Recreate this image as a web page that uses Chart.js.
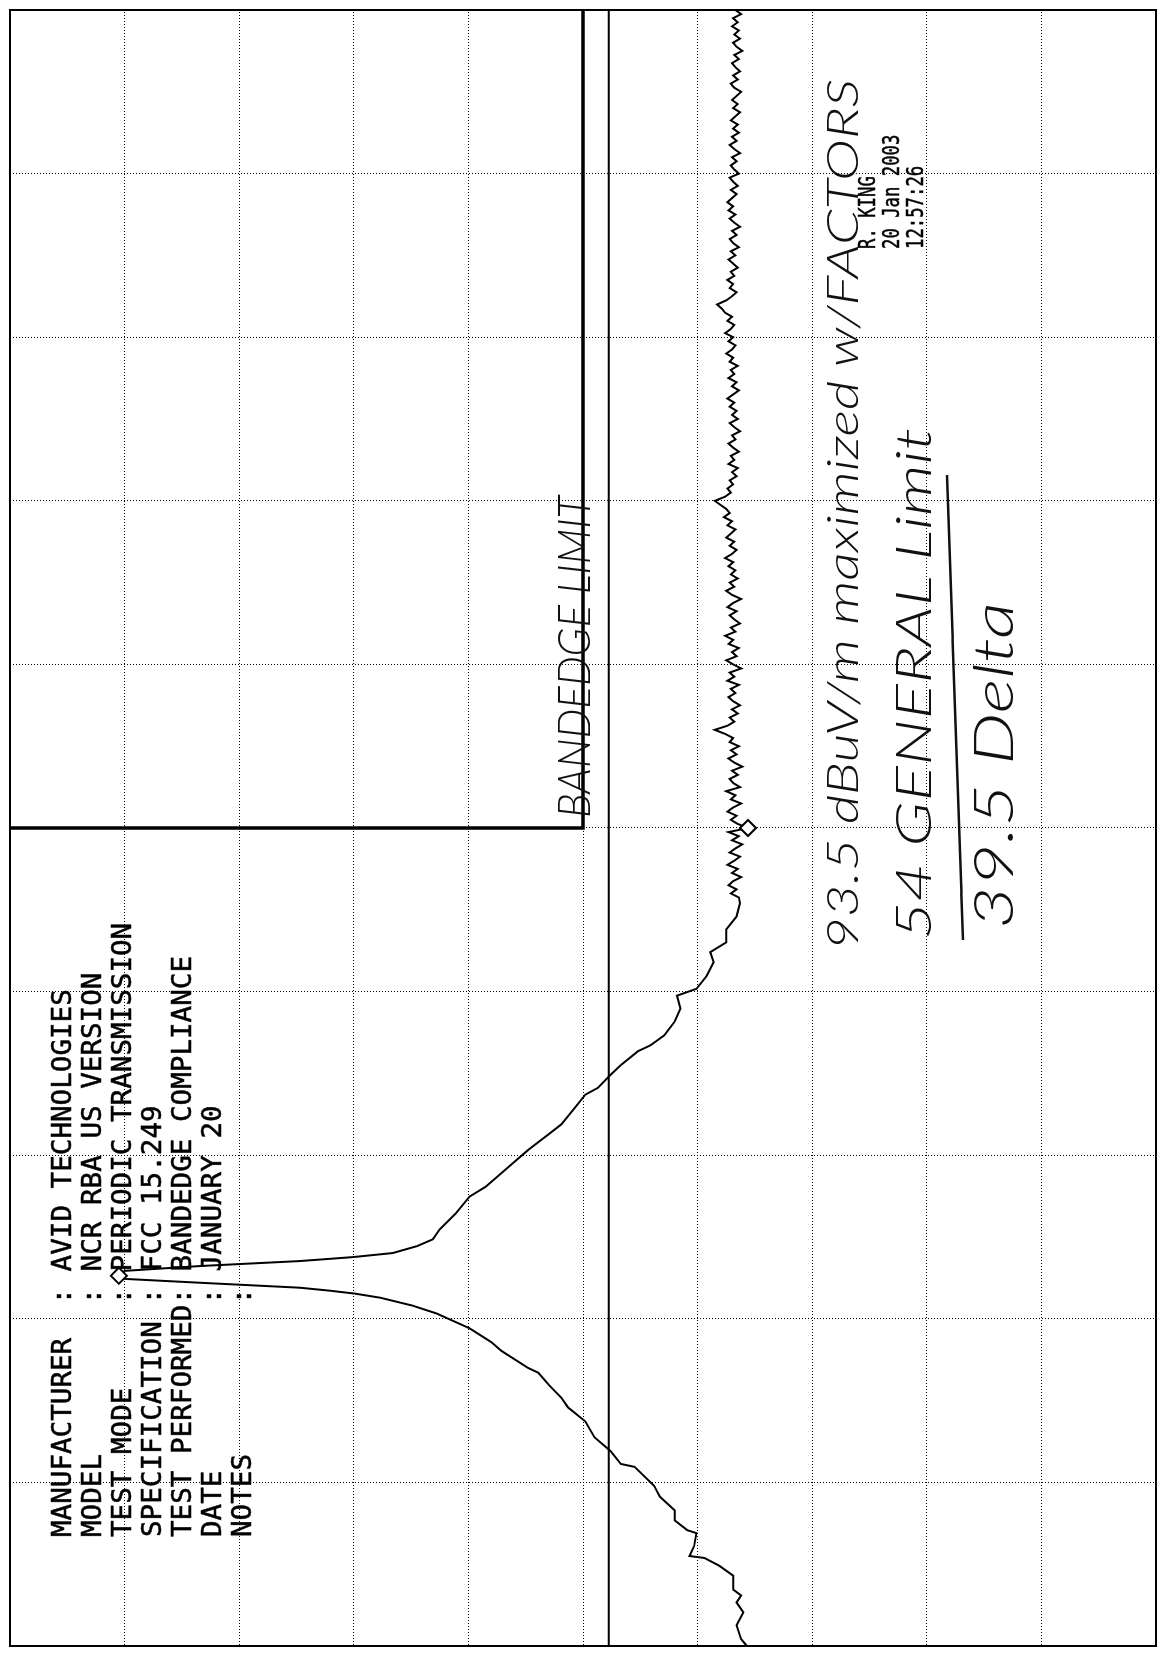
<!DOCTYPE html>
<html>
<head>
<meta charset="utf-8">
<script src="https://cdn.jsdelivr.net/npm/chart.js@4.4.1/dist/chart.umd.min.js"></script>
<style>
  html, body { margin: 0; padding: 0; background: #fff; width: 1166px; height: 1656px; overflow: hidden; }
  #rot { position: absolute; left: 0; top: 0; width: 1656px; height: 1166px;
         transform-origin: 0 0; transform: translate(0px, 1656px) rotate(-90deg); background: #fff; }
  #c { position: absolute; left: 0; top: 0; }
  #ov { position: absolute; left: 0; top: 0; pointer-events: none; }
  .mono { font-family: "DejaVu Sans Mono", "Liberation Mono", monospace; fill: #000; stroke: #000; stroke-width: 0.5; white-space: pre; }
  .hand { font-family: "Lato", "Open Sans", sans-serif; font-weight: 300; font-style: italic; fill: #111; white-space: pre; }
</style>
</head>
<body>
<div id="rot">
  <canvas id="c" width="1656" height="1166"></canvas>
  <svg id="ov" width="1656" height="1166" xmlns="http://www.w3.org/2000/svg"></svg>
</div>
<script>
// ---- data (frequency in screen divisions 0..10, level in dB on a 0..100 scale, 10 dB/div) ----
const signalFreq = [0.000,0.042,0.127,0.206,0.266,0.309,0.345,0.430,0.490,0.538,0.550,0.611,0.690,0.708,0.768,0.829,0.913,0.980,
  1.095,1.113,1.192,1.276,1.373,1.458,1.518,1.597,1.670,1.700,1.803,1.857,1.942,2.033,2.081,2.129,2.154,2.172,2.190,2.220,2.244,
  2.263,2.293,2.323,2.353,2.377,2.402,2.444,2.486,2.547,2.644,2.747,2.807,2.946,3.031,3.128,3.188,3.291,3.370,3.412,3.491,3.551,
  3.636,3.672,3.733,3.817,3.896,3.975,4.017,4.096,4.180,4.241,4.301,4.380,4.459,4.540];
const signalLevel = [35.7,36.2,36.6,36.0,36.6,36.2,36.9,36.9,38.1,39.4,40.7,40.3,40.1,40.9,42.0,42.0,43.3,43.8,
  45.5,46.7,47.6,49.0,49.8,51.3,51.9,53.0,53.9,54.8,57.1,58.0,59.9,62.8,64.9,67.7,69.9,72.1,74.7,83.3,90.0,
  90.5,90.0,83.3,74.7,70.1,66.6,64.5,63.1,62.5,61.1,59.9,58.5,56.2,54.8,53.0,51.9,50.7,49.8,48.7,47.6,46.7,
  45.2,44.1,42.9,42.0,41.5,41.8,40.1,39.2,38.6,38.9,37.5,37.5,36.6,36.3];
// noise floor after the signal, one reading every 0.025 div starting at 4.575 div
const noiseStart = 4.575;
const noiseStep = 0.025;
const noiseLevel = [
  36.4,37.1,36.6,37.3,36.9,36.2,37.0,36.5,37.4,36.8,
  36.3,37.2,36.7,36.1,37.0,36.4,37.3,35.6,36.5,37.1,
  36.6,37.4,36.9,36.2,37.1,36.7,37.5,36.3,36.9,37.2,
  36.5,37.0,36.1,36.8,37.3,36.6,37.1,36.4,37.2,36.9,
  37.6,38.5,37.4,36.8,37.2,36.5,37.0,36.3,36.9,37.3,
  36.7,37.1,36.4,37.4,36.8,37.2,36.2,36.9,37.5,36.6,
  37.0,36.4,37.3,36.9,37.6,36.7,37.1,36.3,36.8,37.2,
  36.6,37.4,36.9,36.2,37.0,37.5,36.8,37.2,36.5,37.1,
  36.7,37.3,36.9,37.6,37.0,36.6,37.2,36.8,37.5,37.1,
  36.7,37.4,37.0,37.7,37.2,37.5,38.0,38.5,37.6,37.1,
  37.4,36.9,37.2,36.6,37.0,36.5,37.3,36.8,37.1,36.4,
  36.9,37.3,36.7,37.0,36.3,36.8,37.2,36.5,37.0,36.6,
  37.2,36.8,37.4,36.9,36.4,37.0,36.6,37.3,36.8,37.1,
  36.5,37.2,36.9,37.5,37.0,36.7,37.3,36.9,37.6,37.1,
  36.8,37.4,37.0,37.6,37.9,38.3,37.5,37.0,36.6,37.2,
  36.9,37.4,36.8,37.1,36.5,36.9,37.3,36.7,37.1,36.4,
  36.9,37.2,36.6,37.0,36.3,36.8,37.2,36.7,37.3,36.9,
  37.4,37.0,36.6,37.1,36.5,36.9,37.2,36.4,36.8,37.1,
  36.6,37.0,36.3,36.8,37.2,36.6,37.0,36.4,36.9,36.5,
  37.1,36.7,36.3,36.9,36.5,37.0,36.6,36.2,36.8,37.1,
  36.5,36.9,36.3,36.7,37.0,36.4,36.8,36.1,36.6,36.9,
  36.3,36.8,36.4,37.0,36.5,36.9,36.2,36.7];
const markerFreq = [2.263, 5.00];
const markerLevel = [90.5, 35.6];
const bandedgeFreq = [5.0, 5.0, 10.0];
const bandedgeLevel = [100, 50, 50];
const displayLineFreq = [0, 10];
const displayLineLevel = [47.75, 47.75];
const headerLines = [
  "MANUFACTURER  : AVID TECHNOLOGIES",
  "MODEL         : NCR RBA US VERSION",
  "TEST MODE     : PERIODIC TRANSMISSION",
  "SPECIFICATION : FCC 15.249",
  "TEST PERFORMED: BANDEDGE COMPLIANCE",
  "DATE          : JANUARY 20",
  "NOTES         :"
];
const stampLines = ["R. KING", "20 Jan 2003", "12:57:26"];
const notes = [
  {text: "BANDEDGE LIMIT", x: 838, y: 590, len: 322, size: 46},
  {text: "93.5 dBuV/m maximized w/FACTORS", x: 706, y: 858, len: 871, size: 44},
  {text: "54 GENERAL Limit", x: 716, y: 931, len: 512, size: 50},
  {text: "39.5 Delta", x: 727, y: 1013, len: 327, size: 56}
];

const pairs = (xs, ys) => xs.map((x, i) => ({x, y: ys[i]}));
const noiseFreq = noiseLevel.map((_, i) => +(noiseStart + i * noiseStep).toFixed(3));
const trace = pairs(signalFreq, signalLevel).concat(pairs(noiseFreq, noiseLevel));

const framePlugin = {
  id: 'frame',
  afterDatasetsDraw(chart) {
    const {ctx, chartArea: a} = chart;
    ctx.save();
    ctx.strokeStyle = '#000';
    ctx.lineWidth = 2;
    ctx.strokeRect(a.left, a.top, a.right - a.left, a.bottom - a.top);
    ctx.restore();
  }
};

const axisCommon = {
  type: 'linear',
  grid: { color: '#000', lineWidth: 1, drawTicks: false },
  border: { display: true, color: '#000', width: 2, dash: [1, 2] },
  title: { display: false }
};

new Chart(document.getElementById('c'), {
  type: 'scatter',
  data: {
    datasets: [
      { data: trace, showLine: true, borderColor: '#000', borderWidth: 2, pointRadius: 0, tension: 0, order: 3 },
      { data: pairs(bandedgeFreq, bandedgeLevel), showLine: true, borderColor: '#000', borderWidth: 3.5, pointRadius: 0, order: 2 },
      { data: pairs(displayLineFreq, displayLineLevel), showLine: true, borderColor: '#000', borderWidth: 2, pointRadius: 0, order: 2 },
      { data: pairs(markerFreq, markerLevel), showLine: false, pointStyle: 'rectRot', pointRadius: 8,
        borderColor: '#000', borderWidth: 2, backgroundColor: '#fff', order: 1 }
    ]
  },
  options: {
    responsive: false,
    devicePixelRatio: 1,
    animation: false,
    events: [],
    layout: { padding: { left: 2, right: 1, top: 7, bottom: 3 } },
    plugins: { legend: { display: false }, tooltip: { enabled: false } },
    scales: {
      x: Object.assign({}, axisCommon, { min: 0, max: 10, ticks: { display: false, stepSize: 1, autoSkip: false } }),
      y: Object.assign({}, axisCommon, { min: 0, max: 100, ticks: { display: false, stepSize: 10, autoSkip: false } })
    }
  },
  plugins: [framePlugin]
});

// ---- text overlay (original landscape orientation) ----
const svg = document.getElementById('ov');
const NS = 'http://www.w3.org/2000/svg';
function addText(str, x, y, cls, size, len, adjust) {
  const t = document.createElementNS(NS, 'text');
  t.setAttribute('x', x); t.setAttribute('y', y);
  t.setAttribute('class', cls);
  t.setAttribute('font-size', size);
  if (len) { t.setAttribute('textLength', len); t.setAttribute('lengthAdjust', adjust || 'spacing'); }
  t.textContent = str;
  svg.appendChild(t);
}
const pitch = 16.6;
headerLines.forEach((s, i) => addText(s, 119, 71 + 30 * i, 'mono', 27, s.length * pitch, 'spacingAndGlyphs'));
stampLines.forEach((s, i) => addText(s, 1407, 875 + 24 * i, 'mono', 23, s.length * 10.4, 'spacingAndGlyphs'));
notes.forEach(n => addText(n.text, n.x, n.y, 'hand', n.size, n.len, 'spacingAndGlyphs'));
const ln = document.createElementNS(NS, 'line');
ln.setAttribute('x1', 716); ln.setAttribute('y1', 963);
ln.setAttribute('x2', 1181); ln.setAttribute('y2', 947);
ln.setAttribute('stroke', '#111'); ln.setAttribute('stroke-width', 2.5);
svg.appendChild(ln);
</script>
</body>
</html>
